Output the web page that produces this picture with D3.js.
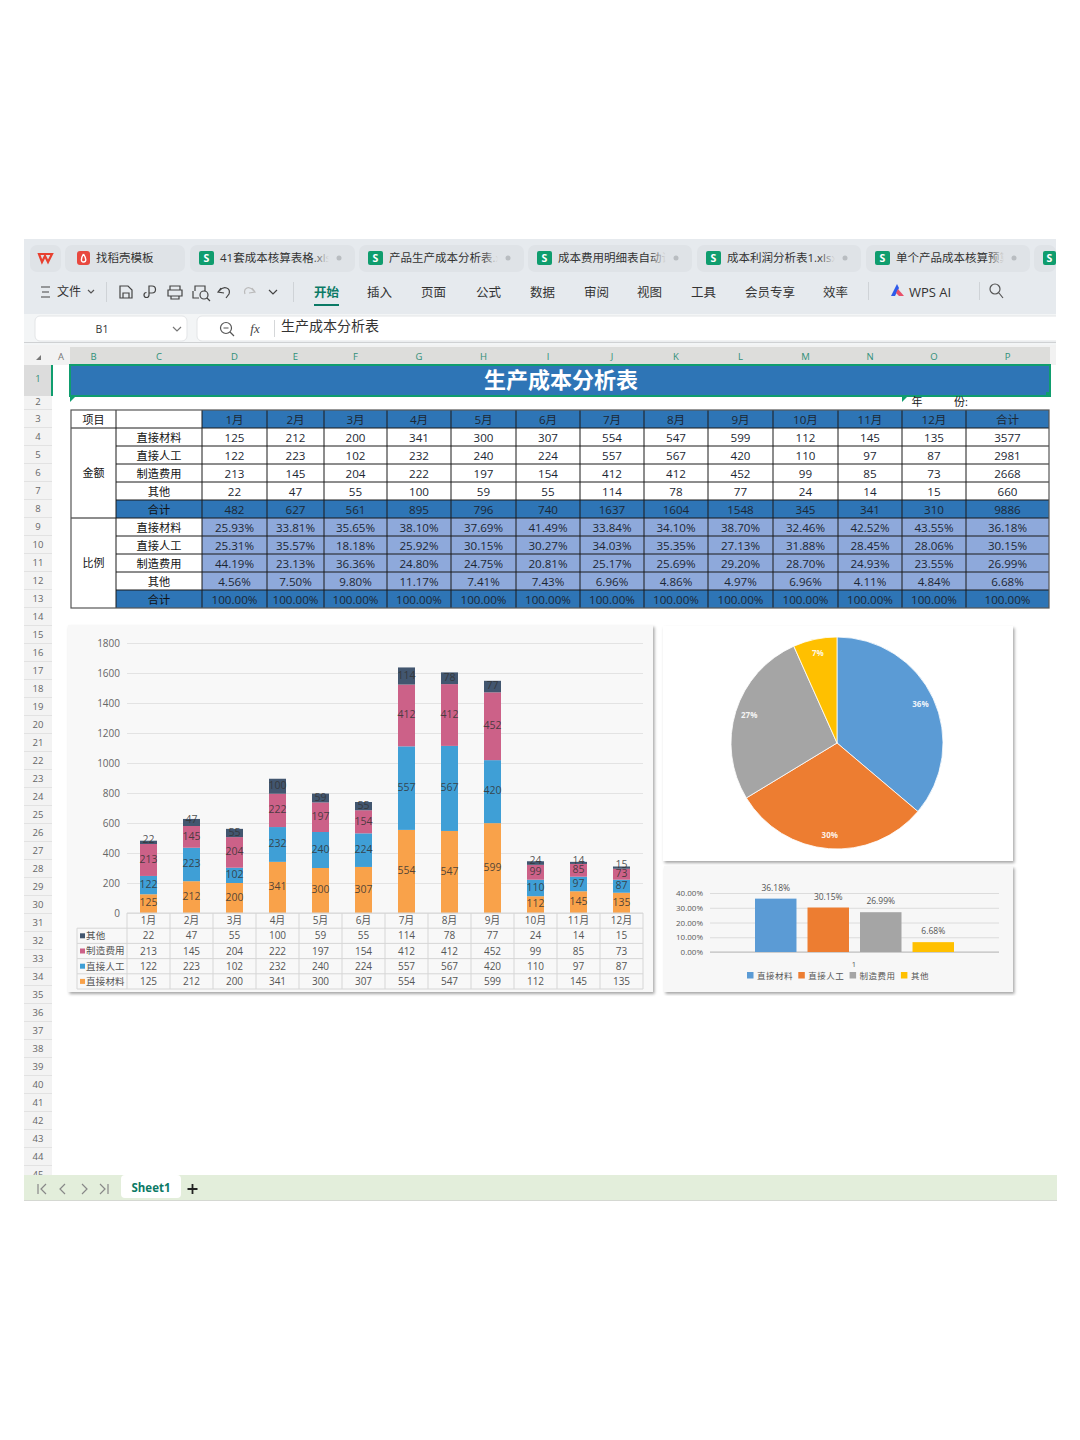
<!DOCTYPE html>
<html>
<head>
<meta charset="utf-8">
<script src="https://cdn.jsdelivr.net/npm/d3@7/dist/d3.min.js"></script>
<style>
	html, body { margin: 0; padding: 0; background: #fff; }
	svg { display: block; }
	text { font-family: "Open Sans", "Noto Sans CJK SC", sans-serif; }
</style>
</head>
<body>
<div id="chart"></div>
<script>
var months = ["1月", "2月", "3月", "4月", "5月", "6月", "7月", "8月", "9月", "10月", "11月", "12月"];
var seriesNames = ["直接材料", "直接人工", "制造费用", "其他"];

var materialAmounts = [125, 212, 200, 341, 300, 307, 554, 547, 599, 112, 145, 135];
var laborAmounts = [122, 223, 102, 232, 240, 224, 557, 567, 420, 110, 97, 87];
var overheadAmounts = [213, 145, 204, 222, 197, 154, 412, 412, 452, 99, 85, 73];
var otherAmounts = [22, 47, 55, 100, 59, 55, 114, 78, 77, 24, 14, 15];
var monthTotals = [482, 627, 561, 895, 796, 740, 1637, 1604, 1548, 345, 341, 310];
var yearAmounts = [3577, 2981, 2668, 660];
var yearTotal = 9886;

var materialShares = [25.93, 33.81, 35.65, 38.10, 37.69, 41.49, 33.84, 34.10, 38.70, 32.46, 42.52, 43.55];
var laborShares = [25.31, 35.57, 18.18, 25.92, 30.15, 30.27, 34.03, 35.35, 27.13, 31.88, 28.45, 28.06];
var overheadShares = [44.19, 23.13, 36.36, 24.80, 24.75, 20.81, 25.17, 25.69, 29.20, 28.70, 24.93, 23.55];
var otherShares = [4.56, 7.50, 9.80, 11.17, 7.41, 7.43, 6.96, 4.86, 4.97, 6.96, 4.11, 4.84];
var yearShares = [36.18, 30.15, 26.99, 6.68];

var stackTicks = [0, 200, 400, 600, 800, 1000, 1200, 1400, 1600, 1800];
var shareTicks = [0, 10, 20, 30, 40];

var tabNames = ["41套成本核算表格.xlsx", "产品生产成本分析表.xlsx", "成本费用明细表自动计算", "成本利润分析表1.xlsx", "单个产品成本核算预算表"];
var menuNames = ["插入", "页面", "公式", "数据", "审阅", "视图", "工具", "会员专享", "效率"];
var columnNames = ["B", "C", "D", "E", "F", "G", "H", "I", "J", "K", "L", "M", "N", "O", "P"];

// layout of the spreadsheet around the charts
var tabEdges = [[190, 355], [359, 524], [528, 692], [697, 861], [866, 1030]];
var menuLefts = [367, 421, 476, 530, 584, 637, 691, 745, 823];
var columnEdges = [71, 116, 202, 267, 324, 387, 451, 516, 580, 644, 708, 773, 838, 902, 966, 1049];

var stackColors = ["#f9a24a", "#3f9fd6", "#cc6188", "#42566f"];
var pieColors = ["#5b9bd5", "#ed7d31", "#a5a5a5", "#ffc000"];

var svg = d3.select("#chart").append("svg")
	.attr("width", 1080)
	.attr("height", 1440);

var defs = svg.append("defs");
var shadow = defs.append("filter").attr("id", "shadow")
	.attr("x", "-3%").attr("y", "-3%").attr("width", "106%").attr("height", "106%");
shadow.append("feDropShadow")
	.attr("dx", 1.5).attr("dy", 2).attr("stdDeviation", 1.5)
	.attr("flood-color", "#000").attr("flood-opacity", 0.35);
var fade = defs.append("linearGradient").attr("id", "tabFade");
fade.append("stop").attr("offset", 0).attr("stop-color", "#dfe3e7").attr("stop-opacity", 0);
fade.append("stop").attr("offset", 1).attr("stop-color", "#dfe3e7").attr("stop-opacity", 1);

function label(parent, x, y, str, size, color, anchor, weight) {
	return parent.append("text")
		.attr("x", x)
		.attr("y", y)
		.attr("dy", "0.36em")
		.attr("font-size", size)
		.attr("fill", color)
		.attr("text-anchor", anchor || "middle")
		.attr("font-weight", weight || "normal")
		.text(str);
}

function box(parent, x, y, w, h, fill, rx) {
	return parent.append("rect")
		.attr("x", x).attr("y", y)
		.attr("width", w).attr("height", h)
		.attr("rx", rx || 0)
		.attr("fill", fill);
}

function stroked(parent, d, color, width) {
	return parent.append("path")
		.attr("d", d)
		.attr("fill", "none")
		.attr("stroke", color)
		.attr("stroke-width", width || 1.2);
}

function drawTabs(g) {
	box(g, 24, 239, 1032, 75, "#e6eaee");
	box(g, 30, 245, 31, 27, "#dfe3e7", 7);
	stroked(g, "M39,254 L42,262 L45,256 L48,262 L52,254 Z", "#e8402f", 2.2);
	box(g, 65, 245, 120, 27, "#dfe3e7", 7);
	box(g, 77, 251, 13, 14, "#e8483f", 3);
	stroked(g, "M83.5,254 C81,258 80.5,262 83.5,262 C87,262 86,258 83.5,254", "#fff", 1.4);
	label(g, 96, 258, "找稻壳模板", 11.5, "#333", "start");

	tabNames.forEach(function(name, i) {
		var left = tabEdges[i][0];
		var right = tabEdges[i][1];
		var clipId = "tabClip" + i;
		defs.append("clipPath").attr("id", clipId).append("rect")
			.attr("x", left).attr("y", 245).attr("width", right - left - 26).attr("height", 27);
		box(g, left, 245, right - left, 27, "#dfe3e7", 7);
		box(g, left + 9, 251, 15, 14, "#0f9d6e", 2);
		label(g, left + 16.5, 258, "S", 10.5, "#fff", "middle", "bold");
		label(g, left + 30, 258, name, 11.5, "#333", "start").attr("clip-path", "url(#" + clipId + ")");
		box(g, right - 42, 248, 16, 20, "url(#tabFade)");
		g.append("circle").attr("cx", right - 16).attr("cy", 258).attr("r", 2.5).attr("fill", "#b9bdc1");
	});
	box(g, 1034, 245, 22, 27, "#dfe3e7", 7);
	box(g, 1043, 251, 13, 14, "#0f9d6e", 2);
	label(g, 1049.5, 258, "S", 10.5, "#fff", "middle", "bold");
}

function drawToolbar(g) {
	stroked(g, "M41,287 H50 M42,292 H49 M41,297 H50", "#444", 1);
	label(g, 57, 292, "文件", 12, "#333", "start");
	stroked(g, "M88,290 L91,293 L94,290", "#555");
	box(g, 106, 282, 1, 20, "#cfd3d7");
	stroked(g, "M120,286 H128 L132,290 V298 H120 Z M123,298 V293 H129 V298", "#444");
	stroked(g, "M149,286 H152 A3.5,3.5 0 0 1 152,293 H149 Z M149,293 V295 A2.5,2.5 0 1 1 146.5,292.5", "#444");
	stroked(g, "M170,290 V286 H180 V290 M168,290 H182 V296 H168 Z M171,296 H179 V299 H171 Z", "#444");
	stroked(g, "M195,291 V286 H205 V291 M193,291 V298 H199 M200,295 a4,4 0 1 0 8,0 a4,4 0 1 0 -8,0 M207,298 L210,301", "#444");
	stroked(g, "M221,288 L218,292 L224,293 M219,291 C224,285 231,288 229,294 L226,298", "#444");
	stroked(g, "M252,288 L255,292 L249,293 M254,291 C249,285 243,288 245,294", "#bbb");
	stroked(g, "M269,290 L273,294 L277,290", "#444");
	box(g, 293, 282, 1, 20, "#cfd3d7");

	label(g, 314, 292, "开始", 12.5, "#0b7a66", "start", "bold");
	box(g, 314, 304, 25, 2, "#0b7a66");
	menuNames.forEach(function(name, i) {
		label(g, menuLefts[i], 292, name, 12.5, "#333", "start");
	});
	box(g, 868, 282, 1, 18, "#cfd3d7");
	g.append("path").attr("d", "M891,296 L897,284 L899,288 L895,296 Z").attr("fill", "#2f5bea");
	g.append("path").attr("d", "M898,289 L904,296 H899 L896,293 Z").attr("fill", "#e8506a");
	label(g, 909, 292, "WPS AI", 13, "#333", "start");
	box(g, 979, 282, 1, 18, "#cfd3d7");
	stroked(g, "M990,289 a5,5 0 1 0 10,0 a5,5 0 1 0 -10,0 M999,293 L1003,298", "#555");
}

function drawFormulaBar(g) {
	box(g, 24, 314, 1032, 31, "#f3f5f6");
	box(g, 35, 316, 152, 25, "#fff", 5).attr("stroke", "#e3e5e7");
	label(g, 102, 329, "B1", 10.5, "#333");
	stroked(g, "M173,327 L177,331 L181,327", "#777");
	box(g, 197, 316, 870, 25, "#fff", 5).attr("stroke", "#e3e5e7");
	box(g, 1056, 314, 14, 31, "#fff");
	stroked(g, "M220.5,328 a5.5,5.5 0 1 0 11,0 a5.5,5.5 0 1 0 -11,0 M223.5,328 H228.5 M230,332 L234,336", "#555");
	label(g, 255, 328, "fx", 13, "#444", "middle").attr("font-style", "italic").style("font-family", "Liberation Serif");
	box(g, 274, 320, 1, 17, "#d5d7d9");
	label(g, 281, 326, "生产成本分析表", 14, "#333", "start");
	box(g, 24, 342, 1032, 1, "#cfd1d3");
}

function drawHeaders(g) {
	box(g, 24, 345, 1032, 20, "#f2f2f2");
	box(g, 70, 347, 980, 18, "#dddddb");
	g.append("path").attr("d", "M36,360 L41,355 V360 Z").attr("fill", "#777");
	label(g, 61, 357, "A", 9.5, "#777");
	columnNames.forEach(function(name, i) {
		label(g, (columnEdges[i] + columnEdges[i + 1]) / 2, 357, name, 9.5, "#2f8f78");
	});

	box(g, 24, 365, 28, 810, "#f3f3f3");
	box(g, 24, 365, 28, 31, "#dcdcdc");
	box(g, 51, 365, 2, 31, "#0f9d6e");
	label(g, 38, 379, "1", 9.5, "#2f8f78");
	label(g, 38, 402, "2", 9.5, "#666");
	box(g, 24, 409, 28, 1, "#e2e2e2");
	d3.range(3, 46).forEach(function(row) {
		var top = 410 + (row - 3) * 18;
		box(g, 24, top + 17, 28, 1, "#e2e2e2");
		label(g, 38, top + 9, row, 9.5, "#666");
	});
}

function drawTitle(g) {
	box(g, 70, 365, 980, 31, "#2e75b6").attr("stroke", "#0f9d6e").attr("stroke-width", 2);
	label(g, 561, 380, "生产成本分析表", 22, "#fff", "middle", "bold");
	box(g, 1046, 392, 5, 5, "#0f9d6e");
	g.append("path").attr("d", "M70,397 H75 L70,402 Z").attr("fill", "#0f9d6e");
	g.append("path").attr("d", "M902,397 H907 L902,402 Z").attr("fill", "#0f9d6e");
	label(g, 917, 402, "年", 11, "#222");
	label(g, 961, 402, "份:", 11, "#222");
}

function drawTable(g) {
	var rowTop = 410;
	var rowStep = 18;
	var percent = function(v) { return d3.format(".2f")(v) + "%"; };
	var amountRows = [materialAmounts, laborAmounts, overheadAmounts, otherAmounts];
	var shareRows = [materialShares, laborShares, overheadShares, otherShares];
	var rows = [];

	rows.push({name: "", cells: months.concat(["合计"]), fill: "#2e75b6", nameFill: "#fff"});
	amountRows.forEach(function(values, i) {
		rows.push({name: seriesNames[i], cells: values.concat([yearAmounts[i]]), fill: "#fff", nameFill: "#fff"});
	});
	rows.push({name: "合计", cells: monthTotals.concat([yearTotal]), fill: "#2e75b6", nameFill: "#2e75b6"});
	shareRows.forEach(function(values, i) {
		rows.push({name: seriesNames[i], cells: values.concat([yearShares[i]]).map(percent), fill: "#8ea9db", nameFill: "#fff"});
	});
	rows.push({name: "合计", cells: months.concat(["合计"]).map(function() { return "100.00%"; }), fill: "#2e75b6", nameFill: "#2e75b6"});

	rows.forEach(function(row, r) {
		var top = rowTop + r * rowStep;
		var mid = top + rowStep / 2 + 0.8;
		box(g, columnEdges[1], top, columnEdges[2] - columnEdges[1], rowStep, row.nameFill);
		label(g, (columnEdges[1] + columnEdges[2]) / 2, mid, row.name, 11.2, "#111");
		row.cells.forEach(function(cell, c) {
			var left = columnEdges[c + 2];
			var right = columnEdges[c + 3];
			box(g, left, top, right - left, rowStep, row.fill);
			label(g, (left + right) / 2, mid, cell, 11.6, "#1c2733");
		});
	});

	var bottom = rowTop + rows.length * rowStep;
	box(g, columnEdges[0], rowTop, columnEdges[1] - columnEdges[0], rowStep * rows.length, "#fff");
	label(g, 93.5, rowTop + 10, "项目", 11, "#111");
	label(g, 93.5, rowTop + rowStep * 3.5, "金额", 11, "#111");
	label(g, 93.5, rowTop + rowStep * 8.5, "比例", 11, "#111");

	rows.forEach(function(row, r) {
		if (r === 0) return;
		var y = rowTop + r * rowStep;
		var x0 = (r === 1 || r === 6) ? columnEdges[0] : columnEdges[1];
		g.append("line").attr("x1", x0).attr("x2", columnEdges[15])
			.attr("y1", y).attr("y2", y)
			.attr("stroke", "#1a1a1a").attr("stroke-width", 1);
	});
	columnEdges.forEach(function(x, i) {
		if (i === 0 || i === 15) return;
		g.append("line").attr("x1", x).attr("x2", x)
			.attr("y1", rowTop).attr("y2", bottom)
			.attr("stroke", "#1a1a1a").attr("stroke-width", 1);
	});
	g.append("rect").attr("x", columnEdges[0]).attr("y", rowTop)
		.attr("width", columnEdges[15] - columnEdges[0]).attr("height", bottom - rowTop)
		.attr("fill", "none").attr("stroke", "#555").attr("stroke-width", 1.2);
}

function drawStacked(g) {
	box(g, 68, 625, 585, 367, "#f8f8f8").attr("filter", "url(#shadow)");

	var x = d3.scaleBand().domain(months).range([127, 643]);
	var y = d3.scaleLinear().domain([0, 1800]).range([913, 643]);
	var rowNames = ["月份"].concat(seriesNames.slice().reverse());
	var rowY = d3.scaleBand().domain(rowNames).range([913, 989]);

	var records = months.map(function(m, i) {
		return {month: m, "直接材料": materialAmounts[i], "直接人工": laborAmounts[i], "制造费用": overheadAmounts[i], "其他": otherAmounts[i]};
	});
	var stacked = d3.stack().keys(seriesNames)(records);

	var axis = g.append("g")
		.attr("transform", "translate(127,0)")
		.call(d3.axisLeft(y).tickValues(stackTicks).tickSize(-516).tickPadding(7).tickFormat(d3.format("d")));
	axis.select(".domain").remove();
	axis.selectAll("line").attr("stroke", "#e3e3e3");
	axis.selectAll("text").attr("font-size", 10).attr("fill", "#666");

	var barWidth = 17;
	var layers = g.selectAll(".layer").data(stacked).enter().append("g").attr("class", "layer");
	layers.each(function(layer, s) {
		d3.select(this).selectAll("rect").data(layer).enter().append("rect")
			.attr("x", function(d) { return x(d.data.month) + (x.bandwidth() - barWidth) / 2; })
			.attr("y", function(d) { return y(d[1]); })
			.attr("width", barWidth)
			.attr("height", function(d) { return y(d[0]) - y(d[1]); })
			.attr("fill", stackColors[s]);
	});
	layers.each(function(layer) {
		d3.select(this).selectAll("text").data(layer).enter().append("text")
			.attr("x", function(d) { return x(d.data.month) + x.bandwidth() / 2; })
			.attr("y", function(d) {
				// thin segments carry their label up on the segment's top edge
				var thin = y(d[0]) - y(d[1]) < 7.5;
				return y((d[0] + d[1]) / 2) - (thin ? 3 : 1);
			})
			.attr("dy", "0.36em")
			.attr("text-anchor", "middle")
			.attr("font-size", 10.5)
			.attr("fill", "#333")
			.attr("fill-opacity", 0.85)
			.text(function(d) { return d[1] - d[0]; });
	});

	// data table under the plot
	var lineColor = "#d6d6d6";
	months.forEach(function(m) {
		label(g, x(m) + x.bandwidth() / 2, rowY("月份") + rowY.bandwidth() / 2, m, 10, "#555");
		g.append("line").attr("x1", x(m)).attr("x2", x(m))
			.attr("y1", 913).attr("y2", 989).attr("stroke", lineColor);
	});
	g.append("line").attr("x1", 643).attr("x2", 643).attr("y1", 913).attr("y2", 989).attr("stroke", lineColor);
	g.append("line").attr("x1", 77).attr("x2", 77).attr("y1", rowY(seriesNames[3])).attr("y2", 989).attr("stroke", lineColor);
	g.append("line").attr("x1", 127).attr("x2", 643).attr("y1", 913).attr("y2", 913).attr("stroke", lineColor);

	stacked.forEach(function(layer, s) {
		var name = seriesNames[s];
		var top = rowY(name);
		var mid = top + rowY.bandwidth() / 2;
		g.append("line").attr("x1", 77).attr("x2", 643).attr("y1", top).attr("y2", top).attr("stroke", lineColor);
		box(g, 80, mid - 2.5, 5, 5, stackColors[s]);
		label(g, 86, mid, name, 9.5, "#555", "start").attr("letter-spacing", 0.2);
		layer.forEach(function(d) {
			label(g, x(d.data.month) + x.bandwidth() / 2, mid, d[1] - d[0], 10, "#555");
		});
	});
	g.append("line").attr("x1", 77).attr("x2", 643).attr("y1", 989).attr("y2", 989).attr("stroke", lineColor);
}

function drawPie(g) {
	box(g, 663, 626, 350, 235, "#fff").attr("filter", "url(#shadow)");

	var slices = d3.pie().sort(null)(yearShares);
	var arc = d3.arc().innerRadius(0).outerRadius(106);
	var labelArc = d3.arc().innerRadius(92).outerRadius(92);
	var pie = g.append("g").attr("transform", "translate(837,743)");

	pie.selectAll("path").data(slices).enter().append("path")
		.attr("d", arc)
		.attr("fill", function(d, i) { return pieColors[i]; })
		.attr("stroke", "#fff")
		.attr("stroke-width", 0.8);
	pie.selectAll("text").data(slices).enter().append("text")
		.attr("transform", function(d) { return "translate(" + labelArc.centroid(d) + ")"; })
		.attr("dy", "0.36em")
		.attr("text-anchor", "middle")
		.attr("font-size", 8)
		.attr("font-weight", "bold")
		.attr("fill", "#fff")
		.attr("fill-opacity", 0.9)
		.text(function(d) { return Math.round(d.data) + "%"; });
}

function drawShareBars(g) {
	box(g, 664, 866, 349, 126, "#f7f7f7").attr("filter", "url(#shadow)");

	var x = d3.scaleBand().domain(seriesNames).range([755, 954]).paddingInner(0.21).paddingOuter(0);
	var y = d3.scaleLinear().domain([0, 40]).range([952, 893]);

	var axis = g.append("g")
		.attr("transform", "translate(710,0)")
		.call(d3.axisLeft(y).tickValues(shareTicks).tickSize(-289).tickPadding(7).tickFormat(function(d) { return d3.format(".2f")(d) + "%"; }));
	axis.select(".domain").remove();
	axis.selectAll("line").attr("stroke", "#dcdcdc");
	axis.selectAll("text").attr("font-size", 8).attr("fill", "#595959");
	g.append("line").attr("x1", 710).attr("x2", 999).attr("y1", 952).attr("y2", 952).attr("stroke", "#bdbdbd");

	seriesNames.forEach(function(name, i) {
		box(g, x(name), y(yearShares[i]), x.bandwidth(), y(0) - y(yearShares[i]), pieColors[i]);
		label(g, x(name) + x.bandwidth() / 2, y(yearShares[i]) - 11, d3.format(".2f")(yearShares[i]) + "%", 8.5, "#555");
		var keyLeft = 747 + i * 51.3;
		box(g, keyLeft, 972, 6.5, 6.5, pieColors[i]);
		label(g, keyLeft + 10, 975.5, name, 8.5, "#555", "start").attr("letter-spacing", 0.5);
	});
	label(g, 854, 964, "1", 7.5, "#555");
}

function drawSheetBar(g) {
	box(g, 24, 1175, 1033, 25, "#e3eedb");
	box(g, 24, 1200, 1033, 1, "#d5d8d2");
	stroked(g, "M38,1184 V1194 M46,1184 L41,1189 L46,1194", "#888");
	stroked(g, "M65,1184 L60,1189 L65,1194", "#888");
	stroked(g, "M82,1184 L87,1189 L82,1194", "#888");
	stroked(g, "M100,1184 L105,1189 L100,1194 M108,1184 V1194", "#888");
	box(g, 121, 1175, 60, 23, "#fff", 4);
	label(g, 151, 1188, "Sheet1", 11.5, "#0b7a66", "middle", "bold");
	stroked(g, "M187.5,1189 H197.5 M192.5,1184 V1194", "#222", 1.8);
}

drawTabs(svg.append("g"));
drawToolbar(svg.append("g"));
drawFormulaBar(svg.append("g"));
drawHeaders(svg.append("g"));
drawTitle(svg.append("g"));
drawTable(svg.append("g"));
drawStacked(svg.append("g"));
drawPie(svg.append("g"));
drawShareBars(svg.append("g"));
drawSheetBar(svg.append("g"));
</script>
</body>
</html>
